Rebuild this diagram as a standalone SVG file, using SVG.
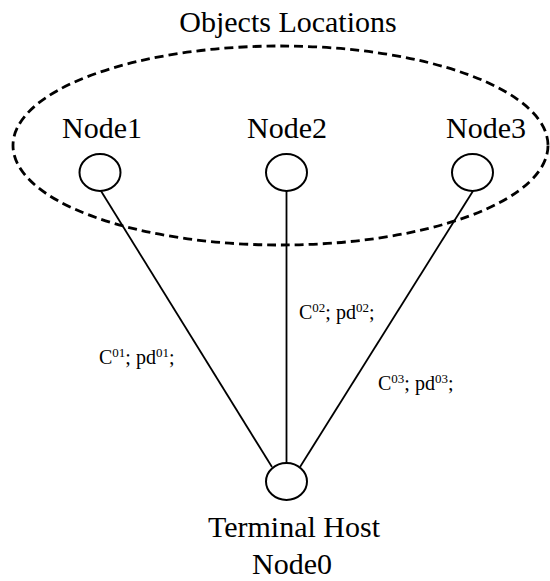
<svg xmlns="http://www.w3.org/2000/svg" width="550" height="581" viewBox="0 0 550 581" font-family="'Liberation Serif', 'DejaVu Serif', serif">
  <style>
    text { font-family: "Liberation Serif", "DejaVu Serif", serif; fill: #000; }
    .lbl { font-size: 30px; }
    .edge-lbl { font-size: 20px; }
    .sup { font-size: 13px; }
    .node { fill: #fff; stroke: #000; stroke-width: 2; }
    .link { stroke: #000; stroke-width: 1.8; fill: none; }
    .region { fill: none; stroke: #000; stroke-width: 2.8; stroke-dasharray: 9 5; }
  </style>
  <rect width="550" height="581" fill="#fff"/>

  <!-- object locations region -->
  <g id="region">
    <text class="lbl" x="288" y="32" text-anchor="middle">Objects Locations</text>
    <ellipse class="region" cx="280.5" cy="145.5" rx="267.5" ry="99.5"/>
  </g>

  <!-- connectors -->
  <g id="connectors">
    <line class="link" x1="101" y1="191" x2="272" y2="467"/>
    <line class="link" x1="286.5" y1="191" x2="286.5" y2="463"/>
    <line class="link" x1="473" y1="191" x2="300" y2="467"/>
    <text class="edge-lbl" x="99" y="364">C<tspan class="sup" dy="-7">01</tspan><tspan dy="7">; pd</tspan><tspan class="sup" dy="-7">01</tspan><tspan dy="7">;</tspan></text>
    <text class="edge-lbl" x="299" y="319">C<tspan class="sup" dy="-7">02</tspan><tspan dy="7">; pd</tspan><tspan class="sup" dy="-7">02</tspan><tspan dy="7">;</tspan></text>
    <text class="edge-lbl" x="378" y="390">C<tspan class="sup" dy="-7">03</tspan><tspan dy="7">; pd</tspan><tspan class="sup" dy="-7">03</tspan><tspan dy="7">;</tspan></text>
  </g>

  <g id="node1">
    <text class="lbl" x="62" y="138">Node1</text>
    <ellipse class="node" cx="100" cy="172.5" rx="20.5" ry="18.5"/>
  </g>
  <g id="node2">
    <text class="lbl" x="247" y="138">Node2</text>
    <ellipse class="node" cx="286.5" cy="172.5" rx="20.5" ry="18.5"/>
  </g>
  <g id="node3">
    <text class="lbl" x="446" y="138">Node3</text>
    <ellipse class="node" cx="472.5" cy="172.5" rx="20.5" ry="18.5"/>
  </g>
  <g id="node0">
    <ellipse class="node" cx="286.5" cy="481.5" rx="20.5" ry="18.5"/>
    <text class="lbl" x="208" y="537">Terminal Host</text>
    <text class="lbl" x="252" y="574">Node0</text>
  </g>
</svg>
